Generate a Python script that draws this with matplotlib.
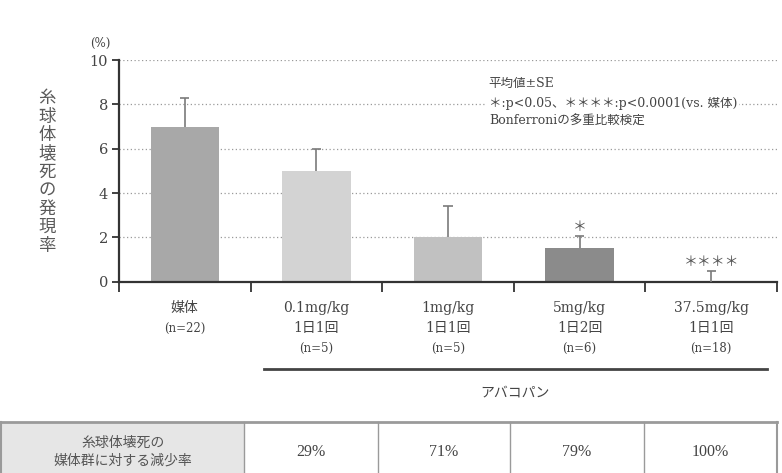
import matplotlib
matplotlib.use("Agg")
import matplotlib.pyplot as plt
from matplotlib.patches import Rectangle
from matplotlib.lines import Line2D
from matplotlib.transforms import blended_transform_factory
import numpy as np

SERIF = ["DejaVu Serif", "Noto Sans CJK JP"]
plt.rcParams["font.family"] = SERIF

# data
groups = ["媒体", "0.1mg/kg\n1日1回", "1mg/kg\n1日1回", "5mg/kg\n1日2回", "37.5mg/kg\n1日1回"]
n_labels = ["(n=22)", "(n=5)", "(n=5)", "(n=6)", "(n=18)"]
means = [7.0, 5.0, 2.0, 1.5, 0.0]
se = [1.3, 1.0, 1.4, 0.55, 0.5]
stars = ["", "", "", "＊", "＊＊＊＊"]
bar_colors = ["#a8a8a8", "#d3d3d3", "#c1c1c1", "#8b8b8b", "#8b8b8b"]
reduction = ["29%", "71%", "79%", "100%"]
yticks = [0, 2, 4, 6, 8, 10]

W, H = 782, 473


def fx(x):
    return x / W


def fy(y):
    return 1 - y / H


fig = plt.figure(figsize=(W / 100, H / 100), dpi=100)
ax = fig.add_axes([fx(119), fy(281.7), fx(777 - 119), (281.7 - 60) / H])

x = np.arange(len(groups)) + 0.5
means = np.array(means)
tops = means + np.array(se)
ax.bar(x, means, width=0.52, color=bar_colors, zorder=2)
# upper-only SE whiskers
ax.vlines(x, means, tops, color="#7a7a7a", linewidth=1.2, zorder=3)
ax.hlines(tops, x - 0.035, x + 0.035, color="#7a7a7a", linewidth=1.2, zorder=3)
for xi, t, st in zip(x, tops, stars):
    if st:
        ax.text(xi, t + 0.4, st, ha="center", va="center",
                fontsize=10, color="#555555", zorder=4)

ax.set_xlim(0, len(groups))
ax.set_ylim(0, 10)
ax.set_yticks(yticks)
ax.set_xticks(np.arange(len(groups) + 1))
ax.set_xticklabels([])
ax.tick_params(axis="y", direction="out", length=5, width=1.3, color="#333333",
               labelsize=10.5, labelcolor="#444444", pad=3)
ax.tick_params(axis="x", direction="out", length=7, width=1.3, color="#333333")
ax.grid(axis="y", color="#9a9a9a", linestyle=(0, (1, 2)), linewidth=0.9)
ax.set_axisbelow(True)
for side in ["top", "right"]:
    ax.spines[side].set_visible(False)
for side in ["left", "bottom"]:
    ax.spines[side].set_color("#333333")
    ax.spines[side].set_linewidth(1.6)

# unit and vertical y label
fig.text(fx(100), fy(43), "(%)", ha="center", va="center", fontsize=8.5, color="#444444")
fig.text(fx(47), fy(172), "\n".join("糸球体壊死の発現率"), ha="center", va="center",
         fontsize=12.5, color="#5a5a5a", linespacing=1.03, family="Noto Sans CJK JP")

# legend note
note_kw = dict(transform=ax.transAxes, fontsize=9, color="#444444", ha="left", va="center")
ax.text(0.562, 0.895, "平均値±SE", **note_kw)
ax.text(0.562, 0.806, "＊:p<0.05、＊＊＊＊:p<0.0001(vs. 媒体)",
        bbox=dict(facecolor="white", edgecolor="none", pad=1.5), **note_kw)
ax.text(0.562, 0.722, "Bonferroniの多重比較検定", **note_kw)

# category labels under the axis
trans = blended_transform_factory(ax.transData, fig.transFigure)
for xi, g, n in zip(x, groups, n_labels):
    lines = g.split("\n")
    for k, line in enumerate(lines):
        ax.text(xi, fy(308 + 20 * k), line, transform=trans, ha="center",
                va="center", fontsize=10, color="#444444")
    ax.text(xi, fy(308 + 20 * len(lines)), n, transform=trans, ha="center",
            va="center", fontsize=8.5, color="#444444")

# bracket for the drug groups
fig.add_artist(Line2D([fx(264), fx(767)], [fy(369), fy(369)], color="#444444",
                      linewidth=2.0))
fig.text(fx(515), fy(393), "アバコパン", ha="center", va="center", fontsize=10,
         color="#444444", family="Noto Sans CJK JP")

# reduction-rate table
col_edges = [1, 244, 378, 510, 644, 777]
top, bottom = 422, 480
fig.add_artist(Rectangle((fx(col_edges[0]), fy(bottom)), fx(col_edges[1] - col_edges[0]),
                         (bottom - top) / H, facecolor="#e6e6e6", edgecolor="none"))
fig.add_artist(Line2D([fx(col_edges[0]), fx(col_edges[-1])], [fy(top), fy(top)],
                      color="#9a9a9a", linewidth=2.0))
for e in col_edges:
    fig.add_artist(Line2D([fx(e), fx(e)], [fy(top), fy(bottom)],
                          color="#9a9a9a", linewidth=1.5 if e in (1, 777) else 1.0))
fig.text(fx((col_edges[0] + col_edges[1]) / 2), fy(452), "糸球体壊死の\n媒体群に対する減少率",
         ha="center", va="center", fontsize=10, color="#555555", linespacing=1.35,
         family="Noto Sans CJK JP")
for i, r in enumerate(reduction):
    fig.text(fx((col_edges[i + 1] + col_edges[i + 2]) / 2), fy(452), r,
             ha="center", va="center", fontsize=11.5, color="#444444",
             family=["Liberation Serif", "Noto Sans CJK JP"])

fig.savefig("out.png", dpi=100)
